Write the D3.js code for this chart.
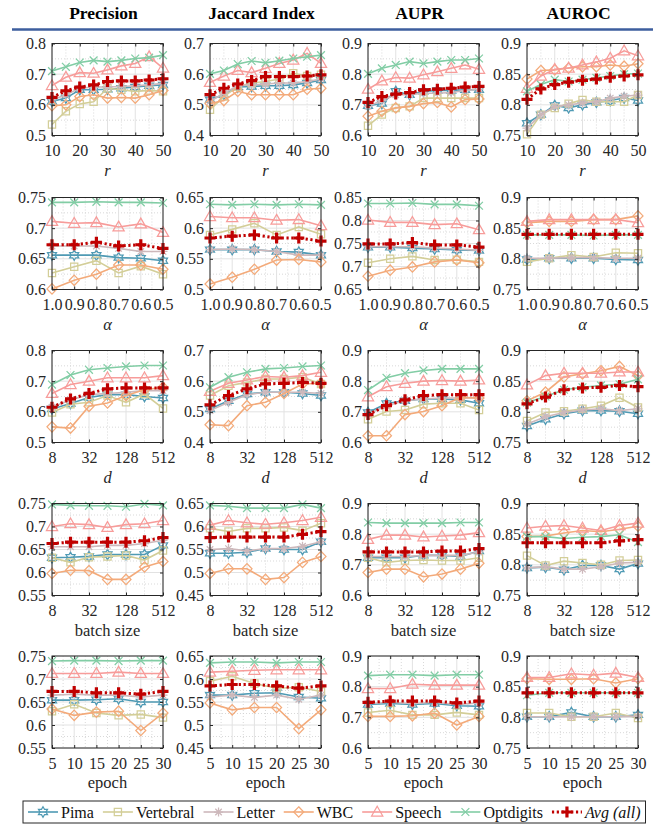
<!DOCTYPE html>
<html><head><meta charset="utf-8">
<script src="https://cdn.jsdelivr.net/npm/d3@7"></script>
<style>
body{margin:0;background:#fff} svg{display:block}
svg text{font-family:"Liberation Serif","Times New Roman",Times,serif;}
</style>
</head><body>
<svg id="chart" width="670" height="824"></svg>
<script>
// ---------------- DATA ----------------
const seriesNames = ["Pima","Vertebral","Letter","WBC","Speech","Optdigits","Avg (all)"];
const metrics = ["Precision","Jaccard Index","AUPR","AUROC"];

const xR = [10,15,20,25,30,35,40,45,50];
const xAlpha = [1.0,0.9,0.8,0.7,0.6,0.5];
const xD = [8,16,32,64,128,256,512];
const xBatch = [8,16,32,64,128,256,512];
const xEpoch = [5,10,15,20,25,30];

const xTicksR = [10,20,30,40,50];
const xTicksAlpha = [1.0,0.9,0.8,0.7,0.6,0.5];
const xTicksLog = [8,32,128,512];
const xTicksEpoch = [5,10,15,20,25,30];
const xLabels = ["r","α","d","batch size","epoch"];

// y-axis [min, max, step] per row (r, alpha, d, batch, epoch) and column (metric)
const yAxesR     = [[0.5,0.8,0.1],[0.4,0.7,0.1],[0.6,0.9,0.1],[0.75,0.9,0.05]];
const yAxesAlpha = [[0.6,0.75,0.05],[0.5,0.65,0.05],[0.65,0.85,0.05],[0.75,0.9,0.05]];
const yAxesD     = [[0.5,0.8,0.1],[0.4,0.7,0.1],[0.6,0.9,0.1],[0.75,0.9,0.05]];
const yAxesBatch = [[0.55,0.75,0.05],[0.45,0.65,0.05],[0.6,0.9,0.1],[0.75,0.9,0.05]];
const yAxesEpoch = [[0.55,0.75,0.05],[0.45,0.65,0.05],[0.6,0.9,0.1],[0.75,0.9,0.05]];

// series order: Pima, Vertebral, Letter, WBC, Speech, Optdigits, Avg
const r_precision = [
 [0.611,0.622,0.649,0.649,0.651,0.654,0.658,0.662,0.665],
 [0.536,0.579,0.603,0.610,0.654,0.649,0.644,0.647,0.644],
 [0.616,0.633,0.654,0.658,0.658,0.660,0.662,0.665,0.670],
 [0.597,0.600,0.627,0.633,0.622,0.624,0.622,0.633,0.647],
 [0.663,0.690,0.705,0.703,0.714,0.727,0.735,0.757,0.720],
 [0.710,0.724,0.738,0.745,0.741,0.745,0.751,0.754,0.762],
 [0.624,0.646,0.658,0.665,0.676,0.678,0.678,0.681,0.685]];
const r_jaccard = [
 [0.517,0.533,0.558,0.560,0.562,0.562,0.565,0.571,0.581],
 [0.484,0.527,0.560,0.571,0.576,0.584,0.603,0.594,0.598],
 [0.511,0.538,0.562,0.565,0.568,0.571,0.571,0.576,0.584],
 [0.504,0.514,0.544,0.533,0.533,0.533,0.533,0.551,0.554],
 [0.573,0.594,0.612,0.605,0.619,0.635,0.646,0.668,0.635],
 [0.601,0.612,0.633,0.643,0.637,0.644,0.651,0.657,0.662],
 [0.533,0.554,0.568,0.579,0.592,0.592,0.592,0.594,0.598]];
const r_aupr = [
 [0.697,0.704,0.744,0.733,0.744,0.747,0.747,0.749,0.749],
 [0.632,0.668,0.690,0.695,0.722,0.722,0.722,0.722,0.722],
 [0.695,0.714,0.733,0.733,0.738,0.738,0.740,0.747,0.751],
 [0.663,0.679,0.690,0.695,0.704,0.708,0.693,0.717,0.719],
 [0.751,0.778,0.789,0.787,0.798,0.808,0.819,0.830,0.816],
 [0.801,0.819,0.830,0.841,0.835,0.841,0.846,0.846,0.851],
 [0.708,0.727,0.735,0.740,0.749,0.751,0.754,0.758,0.760]];
const r_auroc = [
 [0.770,0.784,0.799,0.795,0.800,0.804,0.807,0.811,0.807],
 [0.752,0.784,0.795,0.802,0.808,0.805,0.805,0.805,0.816],
 [0.762,0.784,0.797,0.800,0.803,0.805,0.811,0.814,0.816],
 [0.842,0.856,0.857,0.860,0.862,0.862,0.865,0.863,0.867],
 [0.827,0.847,0.858,0.860,0.865,0.870,0.876,0.888,0.880],
 [0.822,0.833,0.841,0.838,0.841,0.844,0.847,0.850,0.851],
 [0.809,0.826,0.833,0.837,0.840,0.842,0.845,0.847,0.849]];

const alpha_precision = [
 [0.656,0.656,0.656,0.652,0.651,0.647],
 [0.627,0.637,0.647,0.627,0.638,0.625],
 [0.671,0.671,0.671,0.667,0.662,0.662],
 [0.601,0.615,0.625,0.640,0.640,0.633],
 [0.711,0.708,0.709,0.702,0.707,0.693],
 [0.742,0.742,0.743,0.742,0.742,0.741],
 [0.673,0.673,0.677,0.671,0.673,0.667]];
const alpha_jaccard = [
 [0.565,0.565,0.565,0.562,0.561,0.556],
 [0.589,0.598,0.608,0.589,0.602,0.590],
 [0.565,0.566,0.565,0.562,0.556,0.556],
 [0.509,0.520,0.533,0.548,0.549,0.545],
 [0.619,0.617,0.617,0.613,0.614,0.604],
 [0.639,0.638,0.639,0.638,0.639,0.638],
 [0.584,0.587,0.589,0.584,0.584,0.579]];
const alpha_aupr = [
 [0.742,0.742,0.740,0.738,0.736,0.735],
 [0.708,0.717,0.722,0.714,0.715,0.710],
 [0.743,0.743,0.743,0.740,0.738,0.735],
 [0.679,0.692,0.699,0.710,0.714,0.708],
 [0.801,0.796,0.796,0.791,0.793,0.780],
 [0.837,0.837,0.838,0.835,0.835,0.832],
 [0.749,0.749,0.752,0.747,0.747,0.742]];
const alpha_auroc = [
 [0.799,0.801,0.801,0.801,0.799,0.798],
 [0.795,0.801,0.806,0.803,0.810,0.809],
 [0.801,0.801,0.802,0.802,0.801,0.801],
 [0.859,0.861,0.861,0.864,0.864,0.870],
 [0.861,0.864,0.864,0.864,0.864,0.859],
 [0.839,0.839,0.839,0.838,0.839,0.839],
 [0.840,0.840,0.840,0.840,0.840,0.840]];

const d_precision = [
 [0.609,0.627,0.647,0.656,0.656,0.650,0.645],
 [0.598,0.625,0.631,0.653,0.631,0.658,0.611],
 [0.615,0.639,0.656,0.660,0.664,0.669,0.669],
 [0.551,0.547,0.618,0.629,0.653,0.672,0.680],
 [0.660,0.689,0.700,0.711,0.711,0.711,0.718],
 [0.689,0.720,0.737,0.743,0.748,0.751,0.751],
 [0.615,0.642,0.660,0.675,0.678,0.678,0.678]];
const d_jaccard = [
 [0.509,0.536,0.558,0.564,0.564,0.560,0.553],
 [0.553,0.585,0.596,0.607,0.607,0.613,0.591],
 [0.504,0.531,0.556,0.564,0.564,0.564,0.560],
 [0.458,0.455,0.520,0.531,0.560,0.591,0.593],
 [0.567,0.593,0.604,0.615,0.613,0.618,0.629],
 [0.580,0.613,0.629,0.640,0.643,0.648,0.651],
 [0.523,0.553,0.575,0.591,0.593,0.596,0.593]];
const d_aupr = [
 [0.698,0.727,0.736,0.742,0.742,0.739,0.728],
 [0.676,0.701,0.706,0.725,0.728,0.728,0.706],
 [0.693,0.720,0.736,0.742,0.745,0.745,0.745],
 [0.622,0.622,0.691,0.701,0.720,0.747,0.745],
 [0.749,0.782,0.793,0.800,0.802,0.800,0.804],
 [0.771,0.811,0.826,0.835,0.840,0.840,0.840],
 [0.691,0.720,0.739,0.753,0.756,0.756,0.756]];
const d_auroc = [
 [0.777,0.788,0.797,0.802,0.802,0.801,0.797],
 [0.785,0.799,0.801,0.805,0.810,0.823,0.807],
 [0.780,0.792,0.799,0.803,0.805,0.802,0.805],
 [0.818,0.832,0.857,0.862,0.867,0.874,0.859],
 [0.844,0.859,0.863,0.863,0.863,0.865,0.865],
 [0.815,0.825,0.836,0.840,0.843,0.845,0.853],
 [0.813,0.824,0.836,0.839,0.840,0.843,0.841]];

const batch_precision = [
 [0.632,0.633,0.635,0.639,0.639,0.639,0.659],
 [0.632,0.622,0.633,0.635,0.637,0.627,0.648],
 [0.656,0.656,0.656,0.659,0.659,0.663,0.670],
 [0.598,0.605,0.604,0.585,0.585,0.612,0.624],
 [0.700,0.706,0.704,0.698,0.704,0.706,0.713],
 [0.748,0.746,0.745,0.745,0.743,0.749,0.746],
 [0.663,0.666,0.666,0.666,0.666,0.669,0.676]];
const batch_jaccard = [
 [0.542,0.542,0.544,0.552,0.550,0.550,0.567],
 [0.596,0.589,0.596,0.596,0.598,0.591,0.607],
 [0.550,0.552,0.547,0.552,0.552,0.557,0.567],
 [0.498,0.508,0.508,0.485,0.489,0.522,0.535],
 [0.603,0.613,0.608,0.605,0.608,0.613,0.620],
 [0.646,0.644,0.640,0.640,0.640,0.648,0.640],
 [0.576,0.577,0.577,0.577,0.577,0.583,0.589]];
const batch_aupr = [
 [0.723,0.723,0.723,0.731,0.731,0.727,0.745],
 [0.723,0.708,0.714,0.716,0.714,0.714,0.723],
 [0.727,0.727,0.727,0.731,0.731,0.731,0.742],
 [0.675,0.686,0.686,0.661,0.670,0.686,0.705],
 [0.783,0.797,0.797,0.791,0.794,0.797,0.805],
 [0.838,0.836,0.836,0.836,0.836,0.838,0.838],
 [0.742,0.742,0.742,0.742,0.745,0.745,0.753]];
const batch_auroc = [
 [0.795,0.796,0.792,0.799,0.799,0.793,0.802],
 [0.815,0.799,0.806,0.803,0.800,0.807,0.808],
 [0.795,0.797,0.793,0.793,0.797,0.803,0.804],
 [0.846,0.847,0.852,0.856,0.854,0.858,0.863],
 [0.860,0.863,0.864,0.860,0.856,0.864,0.868],
 [0.846,0.846,0.843,0.845,0.846,0.849,0.837],
 [0.836,0.836,0.836,0.836,0.836,0.839,0.841]];

const epoch_precision = [
 [0.654,0.654,0.655,0.657,0.650,0.650],
 [0.630,0.645,0.626,0.621,0.623,0.616],
 [0.665,0.667,0.665,0.665,0.661,0.665],
 [0.635,0.621,0.628,0.630,0.588,0.626],
 [0.712,0.712,0.712,0.715,0.712,0.712],
 [0.739,0.740,0.740,0.739,0.740,0.740],
 [0.673,0.673,0.670,0.670,0.667,0.673]];
const epoch_jaccard = [
 [0.565,0.565,0.569,0.570,0.561,0.558],
 [0.595,0.606,0.590,0.580,0.582,0.573],
 [0.561,0.565,0.560,0.565,0.556,0.565],
 [0.548,0.533,0.538,0.538,0.492,0.533],
 [0.615,0.617,0.619,0.620,0.620,0.620],
 [0.635,0.637,0.637,0.635,0.637,0.637],
 [0.585,0.588,0.588,0.585,0.580,0.585]];
const epoch_aupr = [
 [0.742,0.745,0.742,0.745,0.738,0.736],
 [0.716,0.723,0.708,0.708,0.716,0.708],
 [0.745,0.749,0.745,0.749,0.742,0.747],
 [0.703,0.703,0.705,0.714,0.675,0.703],
 [0.794,0.794,0.808,0.805,0.805,0.805],
 [0.836,0.839,0.839,0.836,0.839,0.839],
 [0.749,0.753,0.753,0.753,0.747,0.753]];
const epoch_auroc = [
 [0.801,0.801,0.808,0.801,0.801,0.804],
 [0.807,0.807,0.801,0.801,0.807,0.799],
 [0.801,0.801,0.801,0.801,0.801,0.802],
 [0.863,0.862,0.862,0.863,0.856,0.863],
 [0.865,0.865,0.871,0.869,0.872,0.865],
 [0.836,0.840,0.840,0.840,0.840,0.840],
 [0.840,0.840,0.840,0.840,0.840,0.840]];

// ---------------- STYLE / LAYOUT ----------------
const colors = ["#4f9ab4","#d3ce98","#cdb8bb","#f3aa7a","#f79c9a","#82cda5","#c00000"];
const markerTypes = ["hexagram","square","asterisk","diamond","triangle","cross","plus"];
const colLefts = [52, 210, 368, 527];
const panelW = 111;
const rowTops = [43.5, 197.5, 350.5, 503.5, 656];
const panelH = 92;
const axisColor = "#262626";

const rows = [
  {x:xR, type:"lin", dom:[10,50], ticks:xTicksR, fmt:d=>String(d), label:xLabels[0], italic:true, ys:yAxesR,
   data:[r_precision,r_jaccard,r_aupr,r_auroc]},
  {x:xAlpha, type:"lin", dom:[1.0,0.5], ticks:xTicksAlpha, fmt:d=>d.toFixed(1), label:xLabels[1], italic:true, ys:yAxesAlpha,
   data:[alpha_precision,alpha_jaccard,alpha_aupr,alpha_auroc]},
  {x:xD, type:"log", dom:[8,512], ticks:xTicksLog, fmt:d=>String(d), label:xLabels[2], italic:true, ys:yAxesD,
   data:[d_precision,d_jaccard,d_aupr,d_auroc]},
  {x:xBatch, type:"log", dom:[8,512], ticks:xTicksLog, fmt:d=>String(d), label:xLabels[3], italic:false, ys:yAxesBatch,
   data:[batch_precision,batch_jaccard,batch_aupr,batch_auroc]},
  {x:xEpoch, type:"lin", dom:[5,30], ticks:xTicksEpoch, fmt:d=>String(d), label:xLabels[4], italic:false, ys:yAxesEpoch,
   data:[epoch_precision,epoch_jaccard,epoch_aupr,epoch_auroc]}
];

const svg = d3.select("#chart");
svg.append("rect").attr("width",670).attr("height",824).attr("fill","#fff");

// headers
metrics.forEach((m,ci)=>{
  svg.append("text").attr("x", colLefts[ci]+panelW/2-4).attr("y",19)
    .attr("text-anchor","middle").style("font-weight","bold")
    .style("font-size","17.5px").attr("fill","#000").text(m);
});
svg.append("line").attr("x1",12).attr("x2",653).attr("y1",29.5).attr("y2",29.5)
  .attr("stroke","#3d5e9e").attr("stroke-width",2.5);

function markerPath(type){
  const p = d3.path();
  if(type==="hexagram"){
    const R=5.2, r=3.0;
    for(let k=0;k<12;k++){
      const a = -Math.PI/2 + k*Math.PI/6, rr = k%2===0?R:r;
      const x=rr*Math.cos(a), y=rr*Math.sin(a);
      if(k===0)p.moveTo(x,y);else p.lineTo(x,y);
    }
    p.closePath();
  } else if(type==="square"){
    p.rect(-3.6,-3.6,7.2,7.2);
  } else if(type==="asterisk"){
    const r=4.5;
    p.moveTo(-r,0);p.lineTo(r,0);
    p.moveTo(0,-r);p.lineTo(0,r);
    const q=r*0.72;
    p.moveTo(-q,-q);p.lineTo(q,q);p.moveTo(-q,q);p.lineTo(q,-q);
  } else if(type==="diamond"){
    p.moveTo(0,-5.2);p.lineTo(5,0);p.lineTo(0,5.2);p.lineTo(-5,0);p.closePath();
  } else if(type==="triangle"){
    p.moveTo(0,-5.8);p.lineTo(5.6,4.0);p.lineTo(-5.6,4.0);p.closePath();
  } else if(type==="cross"){
    const r=3.9;
    p.moveTo(-r,-r);p.lineTo(r,r);p.moveTo(-r,r);p.lineTo(r,-r);
  } else if(type==="plus"){
    const r=5.5;
    p.moveTo(-r,0);p.lineTo(r,0);p.moveTo(0,-r);p.lineTo(0,r);
  }
  return p.toString();
}

function drawSeries(g, xs, ys, xVals, vals, i){
  const isAvg = i===6;
  const line = d3.line().x((d,k)=>xs(xVals[k])).y(d=>ys(d));
  g.append("path").datum(vals).attr("d",line).attr("fill","none")
    .attr("stroke",colors[i]).attr("stroke-width", isAvg?3:1.6)
    .attr("stroke-dasharray", isAvg?"2.2,2.6":null);
  const mp = markerPath(markerTypes[i]);
  g.selectAll(null).data(vals).enter().append("path")
    .attr("transform",(d,k)=>`translate(${xs(xVals[k])},${ys(d)})`)
    .attr("d",mp).attr("fill","none").attr("stroke",colors[i])
    .attr("stroke-width", isAvg?3.2:1.25);
}

rows.forEach((row,ri)=>{
  row.data.forEach((panelData,ci)=>{
    const g = svg.append("g").attr("transform",`translate(${colLefts[ci]},${rowTops[ri]})`);
    const xs = (row.type==="log"? d3.scaleLog().base(2) : d3.scaleLinear()).domain(row.dom).range([0,panelW]);
    const [ylo,yhi,ystep] = row.ys[ci];
    const ys = d3.scaleLinear().domain([ylo,yhi]).range([panelH,0]);
    const nY = Math.round((yhi-ylo)/ystep);
    const yTicks = d3.range(nY+1).map(k=>+(ylo+k*ystep).toFixed(4));
    const yMinor = d3.range(nY).map(k=>+(ylo+(k+0.5)*ystep).toFixed(4));
    let xMinor;
    if(row.type==="log"){
      xMinor = row.ticks.slice(0,-1).map(t=>t*2);
    } else {
      xMinor = row.ticks.slice(0,-1).map((t,k)=>(t+row.ticks[k+1])/2);
    }
    const gm = g.append("g").attr("stroke","#cfcfcf").attr("stroke-width",0.8).attr("stroke-dasharray","1,2");
    yMinor.forEach(v=>gm.append("line").attr("x1",0).attr("x2",panelW).attr("y1",ys(v)).attr("y2",ys(v)));
    xMinor.forEach(v=>gm.append("line").attr("y1",0).attr("y2",panelH).attr("x1",xs(v)).attr("x2",xs(v)));
    const gM = g.append("g").attr("stroke","#e2e2e2").attr("stroke-width",1);
    yTicks.forEach(v=>gM.append("line").attr("x1",0).attr("x2",panelW).attr("y1",ys(v)).attr("y2",ys(v)));
    row.ticks.forEach(v=>gM.append("line").attr("y1",0).attr("y2",panelH).attr("x1",xs(v)).attr("x2",xs(v)));

    panelData.forEach((vals,i)=>drawSeries(g,xs,ys,row.x,vals,i));

    const ax = g.append("g").attr("transform",`translate(0,${panelH})`)
      .call(d3.axisBottom(xs).tickValues(row.ticks).tickFormat(row.fmt).tickSizeInner(-3).tickSizeOuter(0).tickPadding(9.5));
    const ay = g.append("g")
      .call(d3.axisLeft(ys).tickValues(yTicks).tickFormat(d=>String(+d.toFixed(3))).tickSizeInner(-3).tickSizeOuter(0).tickPadding(6));
    const at = g.append("g")
      .call(d3.axisTop(xs).tickValues(row.ticks).tickFormat("").tickSizeInner(-3).tickSizeOuter(0));
    const ar = g.append("g").attr("transform",`translate(${panelW},0)`)
      .call(d3.axisRight(ys).tickValues(yTicks).tickFormat("").tickSizeInner(-3).tickSizeOuter(0));
    [ax,ay,at,ar].forEach(a=>{
      a.attr("font-family",null).attr("font-size",null);
      a.select(".domain").remove();
      a.selectAll("line").attr("stroke",axisColor);
      a.selectAll("text").style("font-size","16px").attr("fill",axisColor);
    });
    g.append("rect").attr("width",panelW).attr("height",panelH)
      .attr("fill","none").attr("stroke",axisColor).attr("stroke-width",1);
    g.append("text").attr("x",panelW/2).attr("y",panelH+40)
      .attr("text-anchor","middle").style("font-size","16.5px")
      .style("font-style",row.italic?"italic":"normal").attr("fill",axisColor).text(row.label);
  });
});

// legend
const leg = svg.append("g");
const legY = 812;
let cx = 28;
seriesNames.forEach((name,i)=>{
  const gi = leg.append("g");
  const isAvg = i===6;
  gi.append("line").attr("x1",cx).attr("x2",cx+30).attr("y1",legY).attr("y2",legY)
    .attr("stroke",colors[i]).attr("stroke-width",isAvg?3:1.6).attr("stroke-dasharray",isAvg?"2.2,2.6":null);
  gi.append("path").attr("transform",`translate(${cx+15},${legY})`).attr("d",markerPath(markerTypes[i]))
    .attr("fill","none").attr("stroke",colors[i]).attr("stroke-width",isAvg?3.2:1.25);
  const t = gi.append("text").attr("x",cx+33).attr("y",legY+5.5)
    .style("font-size","16px").attr("fill","#111").style("font-style",isAvg?"italic":"normal").text(name);
  const w = t.node().getComputedTextLength();
  cx = cx+33+w+9;
});
leg.insert("rect",":first-child").attr("x",23).attr("y",801).attr("width",cx-9+5-23).attr("height",22)
  .attr("fill","#fff").attr("stroke",axisColor).attr("stroke-width",1);
</script>
</body></html>
